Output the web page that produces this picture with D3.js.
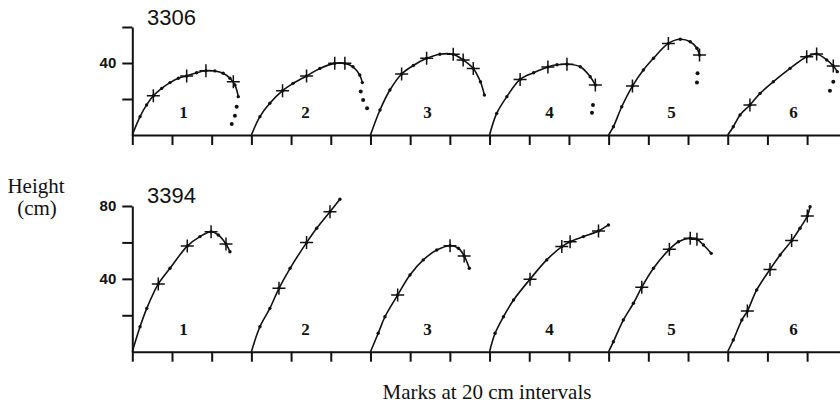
<!DOCTYPE html>
<html>
<head>
<meta charset="utf-8">
<script src="https://cdn.jsdelivr.net/npm/d3@7"></script>
<style>
  html, body { margin: 0; padding: 0; background: #fff; }
  svg { display: block; }
</style>
</head>
<body>
<svg id="chart" width="840" height="416"></svg>
<script>
// Stem profiles of two seedlings (3306, 3394), six tracings each.
// Distances along the ground (cm) and height (cm) per tracing.
const trees = ["3306", "3394"];
const panelLabels = ["1", "2", "3", "4", "5", "6"];
const panelWidthCm = 60;
const xTickValues = d3.range(0, 361, 20);
const yTicks3306 = [20, 40, 60];
const yLabels3306 = [40];
const yTicks3394 = [20, 40, 60, 80];
const yLabels3394 = [40, 80];

// Tree 3306: traced stem, 20 cm marks, and loose points past the tip
const stem3306 = [
  [[0,0],[3.9,10.2],[7.2,16.7],[10.6,21.8],[14.8,25.9],[19.0,29.1],[23.2,31.5],[27.4,32.8],[32.4,34.6],[37.1,35.7],[41.6,35.6],[45.8,34.3],[49.2,31.5],[51.7,27.8],[53.4,21.3]],
  [[0,0],[4.3,10.2],[9.3,17.6],[15.7,24.6],[21.0,28.7],[27.8,32.8],[34.5,37.0],[42.0,39.8],[47.1,39.8],[51.2,37.9],[54.6,33.3],[55.9,29.1]],
  [[0,0],[4.8,13.9],[9.8,25.0],[15.7,33.9],[21.6,38.6],[28.3,42.6],[35.0,44.9],[41.7,44.8],[46.7,41.7],[51.8,37.0],[55.4,29.6],[57.4,22.2]],
  [[0,0],[3.6,12.0],[8.7,21.3],[15.4,30.9],[22.2,34.6],[29.4,37.8],[34.0,39.0],[39.0,39.3],[45.7,37.9],[50.7,32.4],[53.3,27.8]],
  [[0,0],[2.4,4.6],[6.6,15.7],[12.0,27.2],[17.5,36.1],[22.6,42.6],[30.1,50.9],[36.1,53.2],[41.1,51.8],[44.5,48.2],[45.8,44.4]],
  [[0,0],[2.8,4.6],[6.2,11.1],[11.2,16.7],[16.3,23.1],[23.0,29.6],[31.4,37.0],[39.8,43.5],[44.8,45.0],[49.9,41.7],[53.2,38.3],[55.2,35.2]]
];
const marks3306 = [
  [[10.6,21.8],[27.4,32.8],[37.1,35.7],[50.9,29.6]],
  [[15.7,24.6],[27.8,32.8],[42.0,39.8],[47.1,39.8]],
  [[15.7,33.9],[28.3,42.6],[41.7,44.8],[46.7,41.7],[51.8,37.0]],
  [[15.4,30.9],[29.4,37.8],[39.0,39.3],[53.3,27.8]],
  [[12.0,27.2],[30.1,50.9],[45.8,44.4]],
  [[11.2,16.7],[39.8,43.5],[44.8,45.0],[53.2,38.3]]
];
const loose3306 = [
  [[52.6,15.7],[51.7,10.7],[50.1,6.1]],
  [[55.1,24.1],[56.3,19.4],[58.3,14.8]],
  [],
  [[52.1,16.7],[51.6,12.4]],
  [[44.8,34.3],[44.5,29.1]],
  [[53.2,29.6],[51.5,24.6]]
];

// Tree 3394
const stem3394 = [
  [[0,0],[3.9,13.7],[7.3,23.8],[13.1,37.2],[19.0,45.8],[27.7,58.0],[34.1,63.2],[39.7,65.9],[43.3,64.1],[47.2,59.1],[49.2,54.9]],
  [[0,0],[4.3,13.7],[9.3,23.8],[13.9,34.8],[19.5,45.8],[27.8,59.9],[32.9,67.8],[39.6,76.9],[44.6,83.7]],
  [[0,0],[3.9,10.1],[7.3,19.2],[13.7,31.1],[19.9,42.1],[26.6,50.4],[33.4,55.8],[40.1,58.2],[44.3,56.8],[47.2,52.6],[49.8,45.8]],
  [[0,0],[2.8,10.1],[7.0,19.2],[12.1,28.4],[20.4,39.8],[28.8,50.4],[36.4,57.7],[40.6,60.4],[47.3,63.2],[54.9,66.3],[59.9,69.6]],
  [[0,0],[2.4,5.5],[7.4,17.4],[12.5,26.6],[16.7,35.4],[22.6,45.8],[30.6,56.2],[35.2,60.4],[41.1,62.3],[44.5,61.7],[47.8,58.6],[51.7,54.0]],
  [[0,0],[2.8,6.4],[7.1,17.4],[9.9,22.3],[14.6,33.9],[21.3,45.2],[26.4,53.1],[32.2,61.0],[36.4,67.8],[40.1,74.5],[41.5,79.6]]
];
const marks3394 = [
  [[13.1,37.2],[27.7,58.0],[39.7,65.9],[47.2,59.1]],
  [[13.9,34.8],[27.8,59.9],[39.6,76.9]],
  [[13.7,31.1],[40.1,58.2],[47.2,52.6]],
  [[20.4,39.8],[36.4,57.7],[40.6,60.4],[54.9,66.3]],
  [[16.7,35.4],[30.6,56.2],[41.1,62.3],[44.5,61.7]],
  [[9.9,22.3],[21.3,45.2],[32.2,61.0],[40.1,74.5]]
];
const loose3394 = [[], [], [], [], [], []];

const rows = [
  { name: trees[0], stems: stem3306, marks: marks3306, loose: loose3306,
    yMax: 60, ticks: yTicks3306, labels: yLabels3306, base: 135, top: 27 },
  { name: trees[1], stems: stem3394, marks: marks3394, loose: loose3394,
    yMax: 80, ticks: yTicks3394, labels: yLabels3394, base: 351.7, top: 206 }
];

const svg = d3.select("#chart");
const x = d3.scaleLinear().domain([0, panelWidthCm * 6]).range([132.3, 846.8]);
const labelX = i => 183.5 + 122 * i;
const serif = "'Liberation Serif', 'Times New Roman', serif";
const sans = "'Liberation Sans', Arial, sans-serif";

rows.forEach((row, r) => {
  const y = d3.scaleLinear().domain([0, row.yMax]).range([row.base, row.top]);
  const g = svg.append("g");

  // horizontal axis with a tick every 20 cm
  const xAxis = g.append("g")
    .attr("transform", `translate(0,${row.base})`)
    .call(d3.axisBottom(x).tickValues(xTickValues).tickSize(10).tickSizeOuter(0).tickFormat(""));
  xAxis.selectAll("path, line").attr("stroke", "#111").attr("stroke-width", 2);

  // vertical axis
  const yAxis = g.append("g")
    .attr("transform", `translate(${x(0)},0)`)
    .call(d3.axisLeft(y).tickValues(row.ticks).tickSize(10).tickSizeOuter(0).tickPadding(6)
      .tickFormat(d => row.labels.includes(d) ? d : ""));
  yAxis.select(".domain").attr("stroke", "#111").attr("stroke-width", 2);
  yAxis.selectAll("line").attr("stroke", "#111").attr("stroke-width", 2);
  yAxis.selectAll("text")
    .attr("fill", "#111")
    .style("font-family", sans)
    .style("font-weight", "bold")
    .style("font-size", "15px");

  // tree number
  g.append("text")
    .attr("x", 147).attr("y", r === 0 ? 25 : 203)
    .attr("fill", "#111")
    .style("font-family", sans)
    .style("font-size", "22px")
    .text(row.name);

  const line = d3.line()
    .x(d => x(d[0]))
    .y(d => y(d[1]))
    .curve(d3.curveCatmullRom.alpha(0.5));

  row.stems.forEach((pts, i) => {
    const off = i * panelWidthCm;
    const shifted = pts.map(p => [p[0] + off, p[1]]);
    const p = g.append("g");

    p.append("path")
      .datum(shifted)
      .attr("d", line)
      .attr("fill", "none")
      .attr("stroke", "#111")
      .attr("stroke-width", 1.6);

    p.selectAll("circle.pt")
      .data(shifted.slice(1))
      .join("circle")
      .attr("class", "pt")
      .attr("cx", d => x(d[0]))
      .attr("cy", d => y(d[1]))
      .attr("r", 1.7)
      .attr("fill", "#111");

    p.selectAll("circle.loose")
      .data(row.loose[i].map(q => [q[0] + off, q[1]]))
      .join("circle")
      .attr("class", "loose")
      .attr("cx", d => x(d[0]))
      .attr("cy", d => y(d[1]))
      .attr("r", 2)
      .attr("fill", "#111");

    // 20 cm marks drawn as crosses
    const s = 6.5;
    p.selectAll("path.mark")
      .data(row.marks[i].map(q => [q[0] + off, q[1]]))
      .join("path")
      .attr("class", "mark")
      .attr("d", d => {
        const cx = x(d[0]), cy = y(d[1]);
        return `M${cx - s},${cy}H${cx + s}M${cx},${cy - s}V${cy + s}`;
      })
      .attr("stroke", "#111")
      .attr("stroke-width", 1.5)
      .attr("fill", "none");

    g.append("text")
      .attr("x", labelX(i))
      .attr("y", r === 0 ? 118 : 335)
      .attr("text-anchor", "middle")
      .attr("fill", "#111")
      .style("font-family", serif)
      .style("font-weight", "bold")
      .style("font-size", "17px")
      .text(panelLabels[i]);
  });
});

// axis titles
const yTitle = svg.append("text")
  .attr("text-anchor", "middle")
  .attr("fill", "#111")
  .style("font-family", serif)
  .style("font-size", "21px");
yTitle.append("tspan").attr("x", 36).attr("y", 193).text("Height");
yTitle.append("tspan").attr("x", 37).attr("y", 215).text("(cm)");

svg.append("text")
  .attr("x", 487).attr("y", 399)
  .attr("text-anchor", "middle")
  .attr("fill", "#111")
  .style("font-family", serif)
  .style("font-size", "21px")
  .text("Marks at 20 cm intervals");
</script>
</body>
</html>
